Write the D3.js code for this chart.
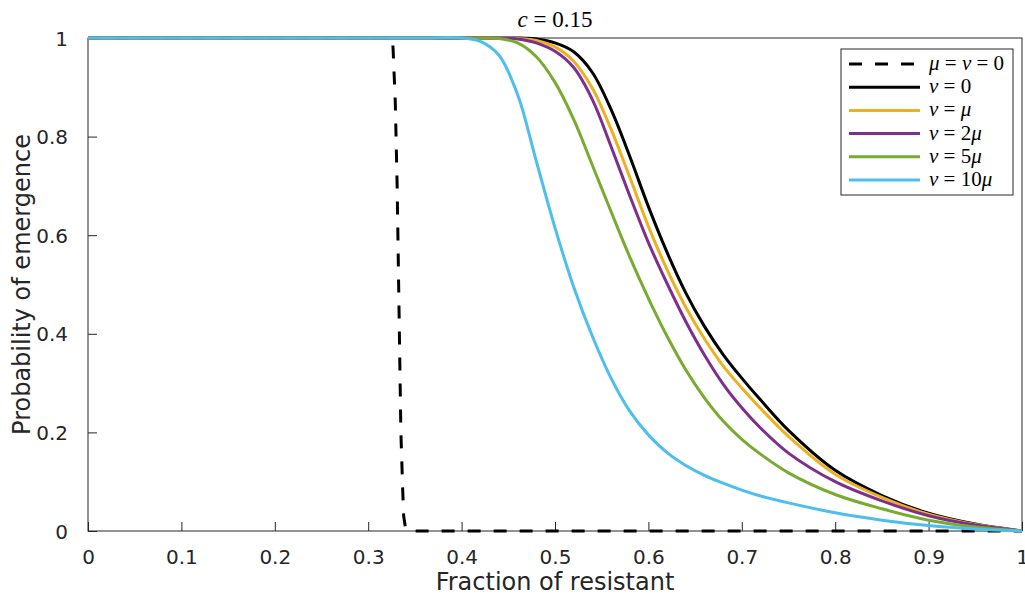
<!DOCTYPE html>
<html>
<head>
<meta charset="utf-8">
<script src="https://cdn.jsdelivr.net/npm/d3@7"></script>
<style>
  html, body { margin: 0; padding: 0; background: #fff; }
  svg { display: block; }
  .tick text { font-family: "DejaVu Sans", sans-serif; }
</style>
</head>
<body>
<svg id="chart" width="1025" height="596"></svg>
<script>
// ---- data ----
const xLabel = "Fraction of resistant";
const yLabel = "Probability of emergence";
const xTicks = [0, 0.1, 0.2, 0.3, 0.4, 0.5, 0.6, 0.7, 0.8, 0.9, 1];
const xTickLabels = ["0", "0.1", "0.2", "0.3", "0.4", "0.5", "0.6", "0.7", "0.8", "0.9", "1"];
const yTicks = [0, 0.2, 0.4, 0.6, 0.8, 1];
const yTickLabels = ["0", "0.2", "0.4", "0.6", "0.8", "1"];

// deterministic case mu = nu = 0 (dashed)
const xDet = [0, 0.326, 0.3266, 0.329, 0.331, 0.333, 0.335, 0.337, 0.338, 0.340, 0.345, 1];
const yDet = [1, 1, 0.98, 0.87, 0.70, 0.45, 0.20, 0.08, 0.03, 0.005, 0, 0];

// stochastic cases
const xGrid  = [0, 0.35, 0.40, 0.42, 0.44, 0.46, 0.48, 0.50, 0.52, 0.54, 0.56, 0.58, 0.60, 0.62, 0.64, 0.66, 0.68, 0.70, 0.72, 0.75, 0.80, 0.85, 0.90, 0.95, 1.0];
const yNu0   = [1, 1, 1, 1, 1, 1, 0.998, 0.99, 0.972, 0.93, 0.855, 0.76, 0.658, 0.565, 0.483, 0.415, 0.358, 0.31, 0.266, 0.204, 0.123, 0.072, 0.036, 0.014, 0];
const yNuMu  = [1, 1, 1, 1, 1, 0.999, 0.995, 0.982, 0.953, 0.898, 0.815, 0.718, 0.618, 0.53, 0.454, 0.39, 0.335, 0.29, 0.249, 0.192, 0.115, 0.068, 0.034, 0.013, 0];
const yNu2Mu = [1, 1, 1, 1, 1, 0.998, 0.99, 0.973, 0.94, 0.875, 0.78, 0.68, 0.585, 0.502, 0.425, 0.357, 0.298, 0.25, 0.209, 0.158, 0.1, 0.061, 0.031, 0.012, 0];
const yNu5Mu = [1, 1, 1, 0.9995, 0.999, 0.99, 0.962, 0.91, 0.835, 0.742, 0.648, 0.556, 0.472, 0.395, 0.327, 0.27, 0.223, 0.186, 0.156, 0.118, 0.074, 0.045, 0.022, 0.008, 0];
const yNu10Mu= [1, 1, 1, 0.993, 0.965, 0.885, 0.75, 0.615, 0.495, 0.395, 0.31, 0.243, 0.195, 0.159, 0.133, 0.113, 0.097, 0.083, 0.071, 0.057, 0.037, 0.022, 0.011, 0.004, 0];

const seriesColors = ["#000000", "#000000", "#EDB120", "#7E2F8E", "#77AC30", "#4DBEEE"];

// ---- layout ----
const svg = d3.select("#chart");
const L = 88, R = 1022, T = 38, B = 531;
const x = d3.scaleLinear().domain([0, 1]).range([L, R]);
const y = d3.scaleLinear().domain([0, 1]).range([B, T]);
const axisColor = "#262626";

const gx = svg.append("g").attr("transform", `translate(0,${B})`)
  .call(d3.axisBottom(x).tickValues(xTicks).tickFormat((d, i) => xTickLabels[i]).tickSizeInner(-9).tickSizeOuter(0).tickPadding(19));
const gy = svg.append("g").attr("transform", `translate(${L},0)`)
  .call(d3.axisLeft(y).tickValues(yTicks).tickFormat((d, i) => yTickLabels[i]).tickSizeInner(-9).tickSizeOuter(0).tickPadding(20));
[gx, gy].forEach(g => {
  g.select(".domain").remove();
  g.selectAll(".tick line").attr("stroke", axisColor).attr("stroke-width", 1);
  g.selectAll(".tick text").attr("fill", axisColor).style("font-size", "20px");
});
gx.selectAll(".tick text").attr("dy", "0.71em");
gy.selectAll(".tick text").attr("dy", "0.35em");

svg.append("rect").attr("x", L).attr("y", T).attr("width", R - L).attr("height", B - T)
  .attr("fill", "none").attr("stroke", axisColor).attr("stroke-width", 1);

// lines
const detLine = d3.line().x(d => x(d[0])).y(d => y(d[1])).curve(d3.curveLinear);
const smooth = d3.line().x(d => x(d[0])).y(d => y(d[1])).curve(d3.curveCatmullRom.alpha(0.5));
const detPts = xDet.map((v, i) => [v, yDet[i]]);
svg.append("path").attr("d", detLine(detPts))
  .attr("fill", "none").attr("stroke", "#000").attr("stroke-width", 3)
  .attr("stroke-dasharray", "13,13");
const stoch = [yNu0, yNuMu, yNu2Mu, yNu5Mu, yNu10Mu];
stoch.forEach((ys, k) => {
  const pts = xGrid.map((v, i) => [v, ys[i]]);
  svg.append("path").attr("d", smooth(pts))
    .attr("fill", "none").attr("stroke", seriesColors[k + 1]).attr("stroke-width", 3)
    .attr("stroke-linejoin", "round");
});

// title
const serif = "'Liberation Serif', 'DejaVu Serif', serif";
const title = svg.append("text").attr("x", (L + R) / 2).attr("y", 27)
  .attr("text-anchor", "middle").attr("font-family", serif).attr("font-size", 23).attr("fill", "#000");
title.append("tspan").attr("font-style", "italic").text("c");
title.append("tspan").text(" = 0.15");

// axis labels
svg.append("text").attr("x", (L + R) / 2).attr("y", 590).attr("text-anchor", "middle")
  .attr("font-family", "'DejaVu Sans', sans-serif").attr("font-size", 24).attr("fill", axisColor)
  .text(xLabel);
svg.append("text").attr("transform", `translate(30,${(T + B) / 2}) rotate(-90)`).attr("text-anchor", "middle")
  .attr("font-family", "'DejaVu Sans', sans-serif").attr("font-size", 24).attr("fill", axisColor)
  .text(yLabel);

// legend
const lg = svg.append("g");
lg.append("rect").attr("x", 841).attr("y", 49).attr("width", 172).attr("height", 146)
  .attr("fill", "#fff").attr("stroke", axisColor).attr("stroke-width", 1);
const legendParts = [
  [["μ", true], [" = ", false], ["ν", true], [" = 0", false]],
  [["ν", true], [" = 0", false]],
  [["ν", true], [" = ", false], ["μ", true]],
  [["ν", true], [" = 2", false], ["μ", true]],
  [["ν", true], [" = 5", false], ["μ", true]],
  [["ν", true], [" = 10", false], ["μ", true]]
];
legendParts.forEach((parts, i) => {
  const yy = 64 + i * 23.2;
  lg.append("line").attr("x1", 849).attr("x2", 920).attr("y1", yy).attr("y2", yy)
    .attr("stroke", seriesColors[i]).attr("stroke-width", 3)
    .attr("stroke-dasharray", i === 0 ? "13,13" : null);
  const t = lg.append("text").attr("x", 929).attr("y", yy + 6)
    .attr("font-family", serif).attr("font-size", 21).attr("fill", "#000");
  parts.forEach(p => t.append("tspan").attr("font-style", p[1] ? "italic" : "normal").text(p[0]));
});
</script>
</body>
</html>
